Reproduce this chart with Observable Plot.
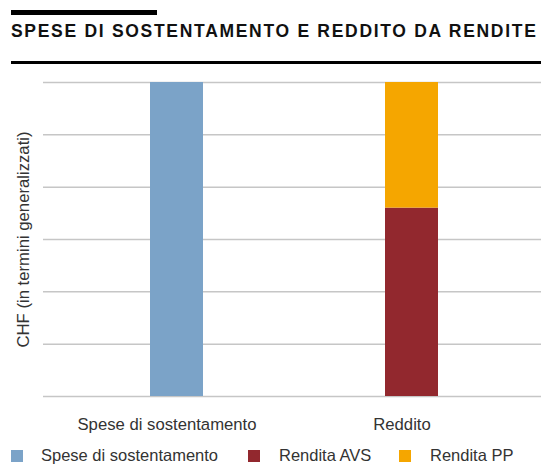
<!DOCTYPE html>
<html>
<head>
<meta charset="utf-8">
<script src="https://cdn.jsdelivr.net/npm/d3@7"></script>
<script src="https://cdn.jsdelivr.net/npm/@observablehq/plot@0.6"></script>
<style>
  html, body { margin: 0; padding: 0; background: #fff; }
  #page { position: relative; width: 541px; height: 466px; overflow: hidden; font-family: "Liberation Sans", Arial, sans-serif; }
  .rule-top { position: absolute; left: 11px; top: 10px; width: 146px; height: 5px; background: #000; }
  .title { position: absolute; left: 11px; top: 21px; font-weight: bold; font-size: 17.5px; line-height: 20px; color: #111; white-space: nowrap; letter-spacing: 1.7px; }
  .rule-bottom { position: absolute; left: 11px; top: 61px; width: 530px; height: 3px; background: #000; }
  #chart { position: absolute; left: 0; top: 70px; }
  .legend-item { position: absolute; top: 446px; font-size: 16.5px; color: #333; white-space: nowrap; }
  .swatch { position: absolute; top: 450px; width: 12px; height: 12px; }
</style>
</head>
<body>
<div id="page">
  <div class="rule-top"></div>
  <div class="title">SPESE DI SOSTENTAMENTO E REDDITO DA RENDITE</div>
  <div class="rule-bottom"></div>
  <div id="chart"></div>
  <div id="legend"></div>
</div>
<script>
const categories = ["Spese di sostentamento", "Reddito"];
const series = ["Spese di sostentamento", "Rendita AVS", "Rendita PP"];
const colors = ["#7ba3c8", "#92282e", "#f5a600"];
const seriesCategory = ["Spese di sostentamento", "Reddito", "Reddito"];
const seriesValues = [6, 3.6, 2.4];
const yTicks = [0, 1, 2, 3, 4, 5, 6];
const yLabel = "CHF (in termini generalizzati)";

const data = series.map((s, i) => ({series: s, category: seriesCategory[i], value: seriesValues[i]}));

const chart = Plot.plot({
  width: 541,
  height: 370,
  marginTop: 12,
  marginBottom: 44,
  marginLeft: 43,
  marginRight: -4,
  style: {fontFamily: "'Liberation Sans', Arial, sans-serif", fontSize: "16.7px", color: "#333", background: "transparent", overflow: "visible"},
  x: {domain: categories, paddingInner: 0.7745, paddingOuter: 0.4553, label: null, axis: null},
  y: {domain: [0, 6], axis: null},
  color: {domain: series, range: colors},
  marks: [
    Plot.ruleY(yTicks, {stroke: "#c6c6c6", strokeWidth: 1.5}),
    Plot.barY(data, {x: "category", y: "value", fill: "series"}),
    Plot.axisX({tickSize: 0, tickPadding: 22, label: null, fontSize: 16.7, dx: -10, fill: "#333"}),
    Plot.text([yLabel], {frameAnchor: "left", textAnchor: "middle", rotate: -90, dx: -20, fontSize: 16.7, fill: "#333", text: d => d})
  ]
});
document.getElementById("chart").appendChild(chart);

const legend = document.getElementById("legend");
const swatchX = [11, 248, 399];
const textX = [41, 279, 430];
series.forEach((s, i) => {
  const sw = document.createElement("div");
  sw.className = "swatch";
  sw.style.left = swatchX[i] + "px";
  sw.style.background = colors[i];
  legend.appendChild(sw);
  const t = document.createElement("div");
  t.className = "legend-item";
  t.style.left = textX[i] + "px";
  t.textContent = s;
  legend.appendChild(t);
});
</script>
</body>
</html>
